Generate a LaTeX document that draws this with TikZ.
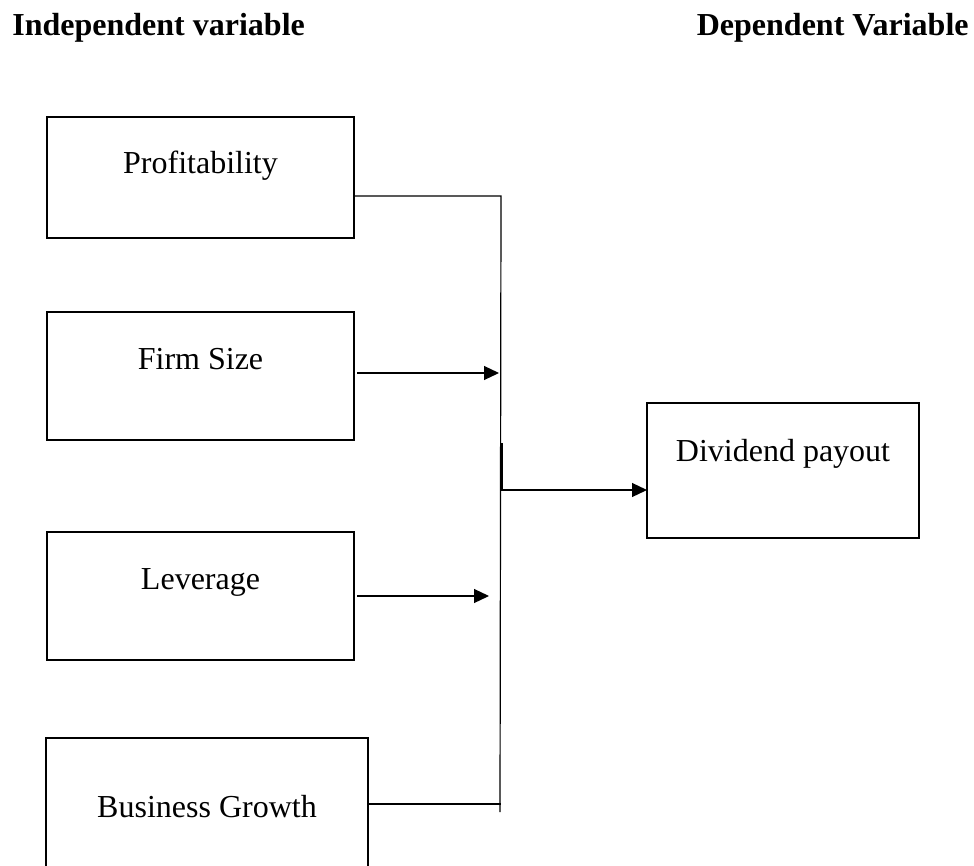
\documentclass[tikz,border=0pt]{standalone}
\usepackage{fontspec}
\setmainfont{Liberation Serif}
\usetikzlibrary{arrows.meta}

\begin{document}
\begin{tikzpicture}[x=0.5pt,y=-0.5pt]
\tikzstyle{varbox}=[draw,line width=1pt,inner sep=0pt,outer sep=0pt,minimum width=153.5pt]
\tikzstyle{lbl}=[inner sep=0pt,anchor=base,font=\fontsize{16pt}{19pt}\selectfont]
\tikzstyle{head}=[inner sep=0pt,font=\fontsize{16pt}{19pt}\selectfont\bfseries]
\tikzstyle{arr}=[-{Triangle[length=7.5pt,width=7pt]}]
\useasboundingbox (0,0) rectangle (974,866);
% headings
\node[head,anchor=base west] (indep) at (12,36) {Independent variable};
\node[head,anchor=base east] (dep) at (969,36) {Dependent Variable};
% boxes
\node[varbox,minimum height=60.5pt] (prof) at (200.5,177.5) {};
\node[varbox,minimum height=64pt] (size) at (200.5,376) {};
\node[varbox,minimum height=64pt] (lev) at (200.5,596) {};
\node[varbox,minimum width=161pt,minimum height=80pt] (growth) at (207,818) {};
\node[varbox,minimum width=136pt,minimum height=67.5pt] (div) at (783,470.5) {};
\node[lbl] (proft) at (200.5,174) {Profitability};
\node[lbl] (sizet) at (200.5,369) {Firm Size};
\node[lbl] (levt) at (200.5,589) {Leverage};
\node[lbl] (growtht) at (207,817) {Business Growth};
\node[lbl] (divt) at (783,461) {Dividend payout};
% joining line
\coordinate (bustop) at (501,196);
\coordinate (busbot) at (500,812);
\coordinate (busgrow) at (500.5,804);
\coordinate (sizeend) at (499,373);
\coordinate (levend) at (489,596);
\coordinate (elbow) at (502,443);
\draw[line width=0.6pt] (prof.east |- bustop) -- (bustop) -- (busbot);
\draw[line width=0.6pt] (growth.east |- busgrow) -- (busgrow);
\draw[line width=0.6pt,arr] (size.east |- sizeend) ++(3,0) -- (sizeend);
\draw[line width=0.6pt,arr] (lev.east |- levend) ++(3,0) -- (levend);
\draw[line width=0.6pt,arr] (elbow) |- ([yshift=-9.75pt]div.west);
\end{tikzpicture}
\end{document}
